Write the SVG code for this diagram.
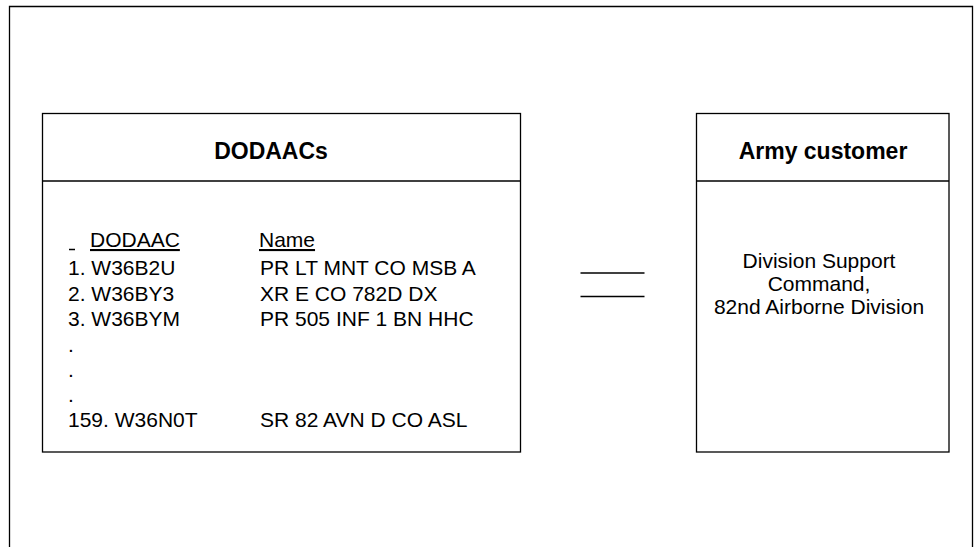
<svg xmlns="http://www.w3.org/2000/svg" width="975" height="547" viewBox="0 0 975 547">
<style>
.frame{fill:none;stroke:#000;stroke-width:1.3}
.box{fill:#fff;stroke:#000;stroke-width:1.3}
.hd{font-family:"Liberation Sans",Arial,sans-serif;font-weight:bold;font-size:23px;fill:#000;text-anchor:middle}
.tx{font-family:"Liberation Sans",Arial,sans-serif;font-size:21px;fill:#000}
.ctr{text-anchor:middle}
.u{text-decoration:underline}
.conn{stroke:#000;stroke-width:1.5;fill:none}
</style>
<rect width="975" height="547" fill="#fff"/>
<path class="frame" d="M9.5,548 V6.5 H972.5 V548"/>
<g id="dodaacs">
<rect class="box" x="42.5" y="113.5" width="478" height="338.5"/>
<line class="frame" x1="42.5" y1="181" x2="520.5" y2="181"/>
<text class="hd" x="271" y="159">DODAACs</text>
<line class="conn" x1="69" y1="249.5" x2="75" y2="249.5" stroke-width="1.3"/>
<text class="tx u" x="90" y="247">DODAAC</text>
<text class="tx u" x="259" y="247">Name</text>
<text class="tx" x="68" y="275">1. W36B2U</text>
<text class="tx" x="260" y="275">PR LT MNT CO MSB A</text>
<text class="tx" x="68" y="300.5">2. W36BY3</text>
<text class="tx" x="260" y="300.5">XR E CO 782D DX</text>
<text class="tx" x="68" y="326">3. W36BYM</text>
<text class="tx" x="260" y="326">PR 505 INF 1 BN HHC</text>
<text class="tx" x="68" y="352">.</text>
<text class="tx" x="68" y="377">.</text>
<text class="tx" x="68" y="402">.</text>
<text class="tx" x="68" y="427">159. W36N0T</text>
<text class="tx" x="260" y="427">SR 82 AVN D CO ASL</text>
</g>
<g id="army-customer">
<rect class="box" x="696.5" y="113.5" width="252.5" height="338.5"/>
<line class="frame" x1="696.5" y1="181" x2="949" y2="181"/>
<text class="hd" x="823" y="159">Army customer</text>
<text class="tx ctr" x="819" y="268">Division Support</text>
<text class="tx ctr" x="819" y="291">Command,</text>
<text class="tx ctr" x="819" y="314">82nd Airborne Division</text>
</g>
<g id="connectors">
<line class="conn" x1="580.5" y1="273" x2="644.5" y2="273"/>
<line class="conn" x1="580.5" y1="296.5" x2="644.5" y2="296.5"/>
</g>
</svg>
